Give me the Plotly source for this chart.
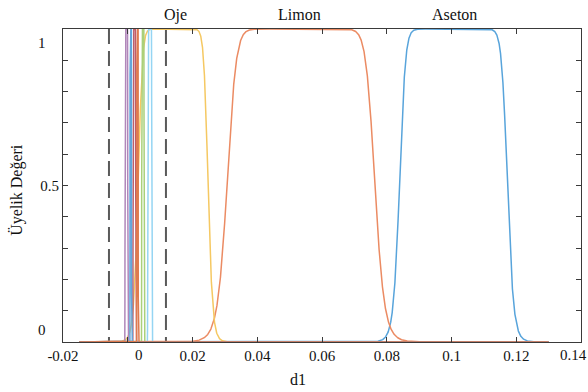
import numpy as np
import plotly.graph_objects as go

# Universe of discourse for the d1 input
d1_min, d1_max = -0.015, 0.13

# Named membership functions (generalised bell: width a, slope b, centre c)
named_labels = ["Aseton", "Limon", "Oje"]
named_center = [0.1006, 0.0535, 0.0140]
named_width = [0.01668, 0.02286, 0.01081]
named_slope = [9, 8, 8]
named_color = ["#58a4db", "#eb8b63", "#f5c862"]
label_x = [0.1008, 0.0529, 0.0149]

# Narrow membership functions packed around zero
narrow_center = [-0.00043, 0.00466, 0.00678, 0.00204, 0.00093, 0.00301]
narrow_width = [0.00042, 0.00036, 0.00062, 0.00042, 0.00023, 0.00022]
narrow_slope = [20, 20, 20, 20, 20, 20]
narrow_color = ["#b086ba", "#a9d07a", "#95d5f3", "#bf5d69", "#64a6da", "#df7a4e"]

# Dashed boundary markers
bounds = [-0.0058, 0.0118]

# Axis ticks
x_ticks = [-0.02, 0.0, 0.02, 0.04, 0.06, 0.08, 0.10, 0.12, 0.14]
x_ticktext = ["-0.02", "", "0.02", "0.04", "0.06", "0.08", "0.1", "0.12", ""]
y_ticks = [0.0, 0.1, 0.2, 0.3, 0.4, 0.5, 0.6, 0.7, 0.8, 0.9, 1.0]
y_ticktext = ["", "", "", "", "", "0.5", "", "", "", "", ""]

FONT = "Liberation Serif"


def gbellmf(x, a, b, c):
    return 1.0 / (1.0 + np.abs((x - c) / a) ** (2 * b))


xs = np.linspace(d1_min, d1_max, 14501)

fig = go.Figure()

for v in bounds:
    fig.add_trace(go.Scatter(
        x=[v, v], y=[1, 0], mode="lines",
        line=dict(color="#5a5a5a", width=2, dash="15px,7px"),
        hoverinfo="skip", showlegend=False))

for name, a, b, c, col in zip(named_labels, named_width, named_slope,
                              named_center, named_color):
    fig.add_trace(go.Scatter(
        x=xs, y=gbellmf(xs, a, b, c), mode="lines", name=name,
        line=dict(color=col, width=1.5), showlegend=False))

for a, b, c, col in zip(narrow_width, narrow_slope, narrow_center, narrow_color):
    fig.add_trace(go.Scatter(
        x=xs, y=gbellmf(xs, a, b, c), mode="lines",
        line=dict(color=col, width=1.5), showlegend=False))

annotations = []
for name, lx in zip(named_labels, label_x):
    annotations.append(dict(
        x=lx, y=1.045, xref="x", yref="paper", text=name, showarrow=False,
        xanchor="center", yanchor="middle",
        font=dict(family=FONT, size=16, color="#111111")))

tick_font = dict(family=FONT, size=15, color="#111111")
# tick labels set slightly inside the axis ends
annotations += [
    dict(x=0.0035, y=-0.0415, xref="x", yref="paper", text="0",
         showarrow=False, xanchor="center", yanchor="middle", font=tick_font),
    dict(x=0.1376, y=-0.0415, xref="x", yref="paper", text="0.14",
         showarrow=False, xanchor="center", yanchor="middle", font=tick_font),
    dict(x=-0.029, y=0.955, xref="paper", yref="y", text="1",
         showarrow=False, xanchor="right", yanchor="middle", font=tick_font),
    dict(x=-0.029, y=0.038, xref="paper", yref="y", text="0",
         showarrow=False, xanchor="right", yanchor="middle", font=tick_font),
    dict(x=0.0525, y=-0.121, xref="x", yref="paper", text="d1",
         showarrow=False, xanchor="center", yanchor="middle",
         font=dict(family=FONT, size=16, color="#111111")),
    dict(x=-0.089, y=0.486, xref="paper", yref="paper", text="Üyelik Değeri",
         textangle=-90, showarrow=False, xanchor="center", yanchor="middle",
         font=dict(family=FONT, size=16, color="#111111")),
]

axis_common = dict(
    showline=True, linecolor="#3a3a3a", linewidth=1, mirror="ticks",
    ticks="inside", ticklen=5, tickcolor="#3a3a3a", tickwidth=1,
    showgrid=False, zeroline=False, tickfont=tick_font)

fig.update_layout(
    width=588, height=392,
    margin=dict(l=63, r=7, t=29, b=50),
    paper_bgcolor="white", plot_bgcolor="white",
    xaxis=dict(range=[-0.02, 0.14], tickvals=x_ticks, ticktext=x_ticktext,
               **axis_common),
    yaxis=dict(range=[0, 1], tickvals=y_ticks, ticktext=y_ticktext,
               **axis_common),
    annotations=annotations,
    showlegend=False,
)

fig.write_html("out.html")
